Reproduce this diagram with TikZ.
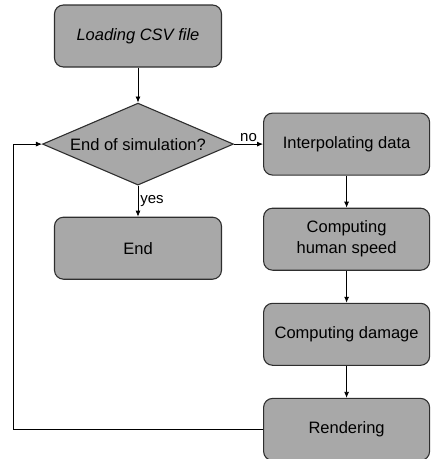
\documentclass[tikz,border=0pt]{standalone}
\usepackage{fontspec}
\setmainfont{Liberation Sans}
\usetikzlibrary{arrows.meta,positioning,shapes.geometric}
\definecolor{FCGray}{HTML}{A8A8A8}
\definecolor{FCEdge}{HTML}{2E2E2E}
\tikzset{box/.style={rounded corners=9pt,draw=FCEdge,line width=1.1pt,fill=FCGray,align=center,minimum width=167pt,minimum height=62pt,font=\fontsize{16.5}{21}\selectfont}, decision/.style={diamond,draw=FCEdge,line width=1.1pt,fill=FCGray,aspect=2.33,minimum width=191pt,minimum height=82pt,inner sep=0pt,font=\fontsize{16.5}{21}\selectfont}, arrow/.style={-{Latex[length=6pt,width=5pt]},line width=0.8pt}, lbl/.style={font=\fontsize{15}{18}\selectfont,inner sep=2pt}}
\begin{document}
\begin{tikzpicture}[node distance=32pt and 29pt]
\useasboundingbox (0,0) rectangle (431pt,-459pt);
\node[box,font=\fontsize{16.5}{21}\selectfont\itshape] (load) at (138pt,-36pt) {Loading CSV file};\node[decision,below=35pt of load] (sim) {End of simulation?};\node[box,below=31pt of sim] (end) {End};
\node[box,minimum width=166pt,right=of sim] (interp) {Interpolating data};\node[box,minimum width=166pt,below=of interp] (speed) {Computing\\human speed};\node[box,minimum width=166pt,below=of speed] (damage) {Computing damage};\node[box,minimum width=166pt,below=of damage] (render) {Rendering};
\draw[arrow] (load)--(sim);\draw[arrow] (sim)--node[lbl,right]{yes}(end);\draw[arrow] (sim)--node[lbl,above]{no}(interp);
\draw[arrow] (interp)--(speed);\draw[arrow] (speed)--(damage);\draw[arrow] (damage)--(render);\draw[arrow] (render.west)-|([xshift=-29pt]sim.west)--(sim.west);
\end{tikzpicture}
\end{document}
